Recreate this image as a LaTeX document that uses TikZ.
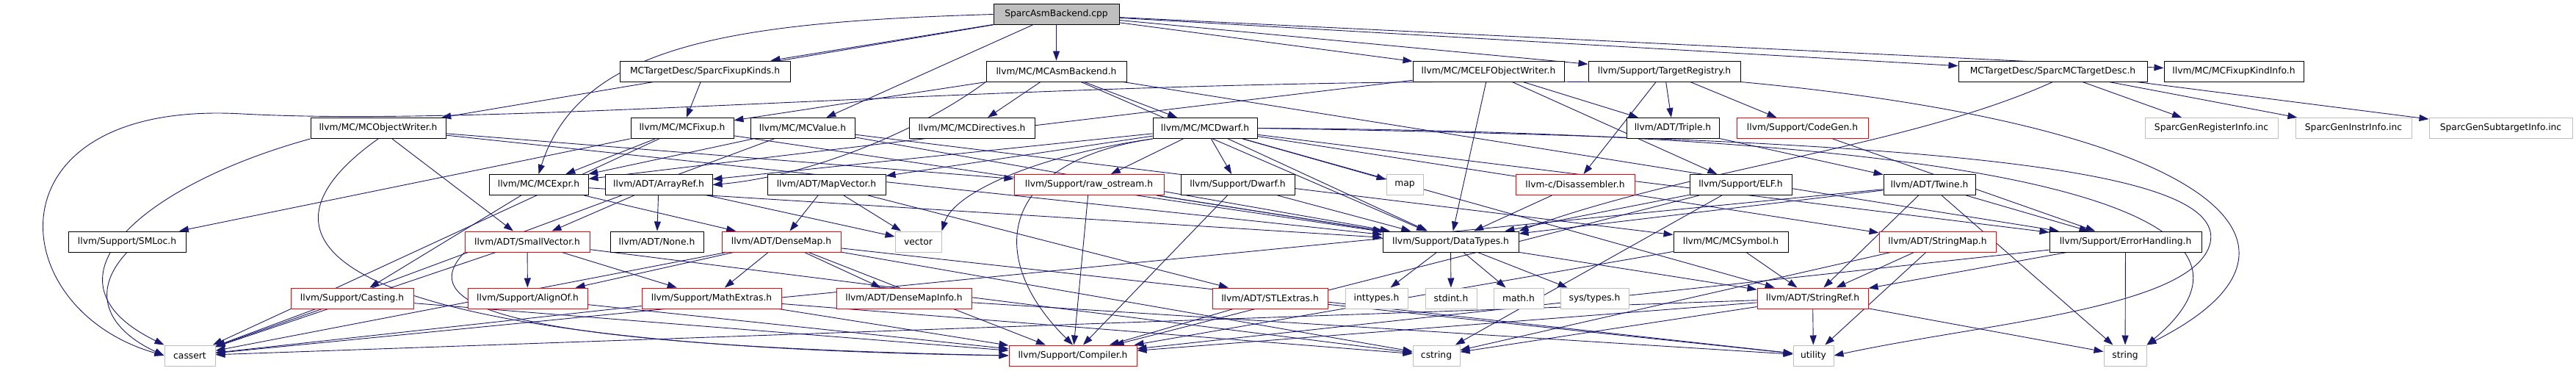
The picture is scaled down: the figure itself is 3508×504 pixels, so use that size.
\documentclass[tikz,border=0pt]{standalone}
\usepackage{fontspec}
\setmainfont{DejaVu Sans}
\usetikzlibrary{arrows.meta,backgrounds}
\definecolor{edgeblue}{HTML}{191970}
\definecolor{boxgray}{HTML}{BFBFBF}

\begin{document}
\begin{tikzpicture}[x=1pt,y=-1pt,>={Triangle[length=13pt,width=9pt]},
  file/.style={draw=black,fill=white,line width=1pt,minimum height=28pt,inner xsep=1pt,inner ysep=0pt,font=\fontsize{12.3}{14}\selectfont},
  trunc/.style={file,draw=red},
  sys/.style={file,draw=boxgray},
  top/.style={file,fill=boxgray},
  incl/.style={->,draw=edgeblue,line width=0.9pt}]
\useasboundingbox (0,0) rectangle (3508,504);
% row 0
\node[top,minimum width=171pt] (R) at (1438.5,19.5) {SparcAsmBackend.cpp};
% row 1
\node[file,minimum width=232pt] (FK) at (960,97) {MCTargetDesc/SparcFixupKinds.h};
\node[file,minimum width=191pt] (AB) at (1438.5,97) {llvm/MC/MCAsmBackend.h};
\node[file,minimum width=206pt] (EW) at (2027,97) {llvm/MC/MCELFObjectWriter.h};
\node[file,minimum width=207pt] (TR) at (2266.5,97) {llvm/Support/TargetRegistry.h};
\node[file,minimum width=257pt] (TD) at (2795.5,97) {MCTargetDesc/SparcMCTargetDesc.h};
\node[file,minimum width=190pt] (FKI) at (3042,97) {llvm/MC/MCFixupKindInfo.h};
% row 2
\node[file,minimum width=184pt] (OW) at (515,174.5) {llvm/MC/MCObjectWriter.h};
\node[file,minimum width=140pt] (FX) at (929,174.5) {llvm/MC/MCFixup.h};
\node[file,minimum width=142pt] (VA) at (1093,174.5) {llvm/MC/MCValue.h};
\node[file,minimum width=171pt] (DI) at (1323.5,174.5) {llvm/MC/MCDirectives.h};
\node[file,minimum width=142pt] (DW) at (1641,174.5) {llvm/MC/MCDwarf.h};
\node[file,minimum width=126pt] (TP) at (2278,174.5) {llvm/ADT/Triple.h};
\node[trunc,minimum width=179pt] (CG) at (2454.5,174.5) {llvm/Support/CodeGen.h};
\node[sys,minimum width=181pt] (GR) at (3011.5,174.5) {SparcGenRegisterInfo.inc};
\node[sys,minimum width=158pt] (GI) at (3205,174.5) {SparcGenInstrInfo.inc};
\node[sys,minimum width=195pt] (GS) at (3405.5,174.5) {SparcGenSubtargetInfo.inc};
% row 3
\node[file,minimum width=135pt] (EX) at (733.5,251.5) {llvm/MC/MCExpr.h};
\node[file,minimum width=146pt] (AR) at (897,251.5) {llvm/ADT/ArrayRef.h};
\node[file,minimum width=161pt] (MV) at (1125.5,251.5) {llvm/ADT/MapVector.h};
\node[trunc,minimum width=204pt] (RO) at (1483,251.5) {llvm/Support/raw\_ostream.h};
\node[file,minimum width=155pt] (DWF) at (1685.5,251.5) {llvm/Support/Dwarf.h};
\node[sys,minimum width=50pt] (MP) at (1913,251.5) {map};
\node[trunc,minimum width=162pt] (DS) at (2145,251.5) {llvm-c/Disassembler.h};
\node[file,minimum width=139pt] (EL) at (2370.5,251.5) {llvm/Support/ELF.h};
\node[file,minimum width=125pt] (TW) at (2627.5,251.5) {llvm/ADT/Twine.h};
% row 4
\node[file,minimum width=160pt] (SML) at (173,329) {llvm/Support/SMLoc.h};
\node[trunc,minimum width=170pt] (SV) at (718,329) {llvm/ADT/SmallVector.h};
\node[file,minimum width=127pt] (NO) at (894.5,329) {llvm/ADT/None.h};
\node[trunc,minimum width=162pt] (DM) at (1064,329) {llvm/ADT/DenseMap.h};
\node[sys,minimum width=63pt] (VE) at (1250.5,329) {vector};
\node[file,minimum width=185pt] (DT) at (1975.5,329) {llvm/Support/DataTypes.h};
\node[file,minimum width=156pt] (MS) at (2357,329) {llvm/MC/MCSymbol.h};
\node[trunc,minimum width=159pt] (SMP) at (2638.5,329) {llvm/ADT/StringMap.h};
\node[file,minimum width=207pt] (EH) at (2894.5,329) {llvm/Support/ErrorHandling.h};
% row 5
\node[trunc,minimum width=167pt] (CS) at (479.5,406) {llvm/Support/Casting.h};
\node[trunc,minimum width=163pt] (AO) at (718.5,406) {llvm/Support/AlignOf.h};
\node[trunc,minimum width=190pt] (MX) at (969,406) {llvm/Support/MathExtras.h};
\node[trunc,minimum width=184pt] (DMI) at (1231,406) {llvm/ADT/DenseMapInfo.h};
\node[trunc,minimum width=157pt] (STX) at (1729.5,406) {llvm/ADT/STLExtras.h};
\node[sys,minimum width=85pt] (IT) at (1874.5,406) {inttypes.h};
\node[sys,minimum width=70pt] (SI) at (1976,406) {stdint.h};
\node[sys,minimum width=68pt] (MA) at (2068,406) {math.h};
\node[sys,minimum width=93pt] (SYS) at (2171.5,406) {sys/types.h};
\node[trunc,minimum width=151pt] (SR) at (2468.5,406) {llvm/ADT/StringRef.h};
% row 6
\node[sys,minimum width=69pt] (CA) at (258.5,484) {cassert};
\node[trunc,minimum width=174pt] (CO) at (1461,484) {llvm/Support/Compiler.h};
\node[sys,minimum width=64pt] (CST) at (1956,484) {cstring};
\node[sys,minimum width=55pt] (UT) at (2469.5,484) {utility};
\node[sys,minimum width=58pt] (ST) at (2894,484) {string};
\begin{pgfonlayer}{background}
% from the source file
\draw[incl] (R) -- (OW);
\draw[incl] (R) -- (FK);
\draw[incl] (R.west) .. controls (1000,30) and (790,60) .. (EX.north);
\draw[incl] (R) -- (VA);
\draw[incl] (R) -- (AB);
\draw[incl] (R) -- (EW);
\draw[incl] (R) -- (TR);
\draw[incl] (R) -- (TD);
\draw[incl] (R) -- (FKI);
\draw[incl] (FK) -- (FX);
% MCAsmBackend.h
\draw[incl] (AB) -- (FX);
\draw[incl] (AB.south west) .. controls (1250,180) and (1100,240) .. (AR.east);
\draw[incl] (AB) -- (DI);
\draw[incl] (AB) -- (DW);
\draw[incl] (AB) -- (DT);
\draw[incl] (AB) -- (EH);
% MCELFObjectWriter.h, TargetRegistry.h, SparcMCTargetDesc.h
\draw[incl] (EW) -- (EX);
\draw[incl] (EW) -- (TP);
\draw[incl] (EW) -- (EL);
\draw[incl] (EW) -- (DT);
\draw[incl] (TR) -- (DS);
\draw[incl] (TR) -- (TP);
\draw[incl] (TR) -- (CG);
\draw[incl] (TR.south west) .. controls (1400,105) and (700,175) .. (330,155) .. controls (-20,135) and (0,420) .. (CA.west);
\draw[incl] (TR.south east) .. controls (3000,170) and (3200,330) .. (ST.north east);
\draw[incl] (TD.south) .. controls (2600,200) and (2300,230) .. (DT.north east);
\draw[incl] (TD) -- (GR);
\draw[incl] (TD) -- (GI);
\draw[incl] (TD) -- (GS);
% MCObjectWriter.h, MCFixup.h, MCValue.h
\draw[incl] (OW.south west) .. controls (200,250) and (40,380) .. (CA.north west);
\draw[incl] (OW) -- (SV);
\draw[incl] (OW.south) .. controls (330,320) and (400,470) .. (CO.west);
\draw[incl] (OW) -- (DT);
\draw[incl] (OW) -- (RO);
\draw[incl] (FX) -- (SML);
\draw[incl] (FX) -- (CA);
\draw[incl] (FX) -- (EX);
\draw[incl] (FX) -- (DT);
\draw[incl] (VA) -- (EX);
\draw[incl] (VA) -- (CA);
\draw[incl] (VA) -- (MS);
\draw[incl] (VA) -- (DT);
% MCDwarf.h
\draw[incl] (DW) -- (AR);
\draw[incl] (DW) -- (MV);
\draw[incl] (DW) -- (RO);
\draw[incl] (DW) -- (DWF);
\draw[incl] (DW) -- (MP);
\draw[incl] (DW.south west) .. controls (1420,210) and (1300,260) .. (VE.north east);
\draw[incl] (DW.south west) .. controls (1360,220) and (1340,350) .. (CO.north);
\draw[incl] (DW) -- (DT);
\draw[incl] (DW) -- (SMP);
\draw[incl] (DW) -- (SR);
\draw[incl] (DW) -- (EH);
\draw[incl] (DW.east) .. controls (2700,180) and (3150,280) .. (ST.north east);
\draw[incl] (DW.east) .. controls (2650,190) and (3030,230) .. (3010,330) .. controls (2990,420) and (2700,440) .. (UT.east);
\draw[incl] (TP) -- (TW);
\draw[incl] (CG) -- (EH);
% row 3 headers
\draw[incl] (EX) -- (CS);
\draw[incl] (EX) -- (DM);
\draw[incl] (EX) -- (DT);
\draw[incl] (AR) -- (SV);
\draw[incl] (AR) -- (NO);
\draw[incl] (AR) -- (VE);
\draw[incl] (MV) -- (DM);
\draw[incl] (MV) -- (VE);
\draw[incl] (MV) -- (STX);
\draw[incl] (RO) -- (CO);
\draw[incl] (RO) -- (DT);
\draw[incl] (RO) -- (SR);
\draw[incl] (DWF) -- (CO);
\draw[incl] (DWF) -- (DT);
\draw[incl] (DS) -- (DT);
\draw[incl] (EL) -- (DT);
\draw[incl] (EL) -- (CO);
\draw[incl] (EL) -- (CST);
\draw[incl] (TW) -- (SR);
\draw[incl] (TW) -- (DT);
\draw[incl] (TW) -- (EH);
\draw[incl] (TW) -- (ST);
\draw[incl] (TW) -- (CA);
% row 4 headers
\draw[incl] (SML.south) .. controls (120,400) and (150,450) .. (CA.west);
\draw[incl] (SV) -- (AO);
\draw[incl] (SV) -- (MX);
\draw[incl] (SV.south west) .. controls (560,420) and (700,470) .. (CO.west);
\draw[incl] (SV) -- (CA);
\draw[incl] (SV) -- (CST);
\draw[incl] (DM) -- (AO);
\draw[incl] (DM) -- (MX);
\draw[incl] (DM) -- (DMI);
\draw[incl] (DM) -- (CO);
\draw[incl] (DM) -- (CA);
\draw[incl] (DM) -- (CST);
\draw[incl] (DM) -- (UT);
\draw[incl] (DT) -- (IT);
\draw[incl] (DT) -- (SI);
\draw[incl] (DT) -- (MA);
\draw[incl] (DT) -- (SYS);
\draw[incl] (MS) -- (SR);
\draw[incl] (MS) -- (CO);
\draw[incl] (SMP) -- (SR);
\draw[incl] (SMP) -- (UT);
\draw[incl] (SMP) -- (CST);
\draw[incl] (EH) -- (SR);
\draw[incl] (EH) -- (ST);
\draw[incl] (EH) -- (CO);
% row 5 headers
\draw[incl] (CS) -- (CA);
\draw[incl] (CS) -- (CO);
\draw[incl] (AO) -- (CO);
\draw[incl] (MX) -- (CA);
\draw[incl] (MX) -- (CO);
\draw[incl] (MX) -- (CST);
\draw[incl] (DMI) -- (UT);
\draw[incl] (STX) -- (CO);
\draw[incl] (STX) -- (UT);
\draw[incl] (SR) -- (UT);
\draw[incl] (SR) -- (ST);
\draw[incl] (SR) -- (CO);
\draw[incl] (SR) -- (CA);
\draw[incl] (SR) -- (CST);
\end{pgfonlayer}
\end{tikzpicture}
\end{document}
